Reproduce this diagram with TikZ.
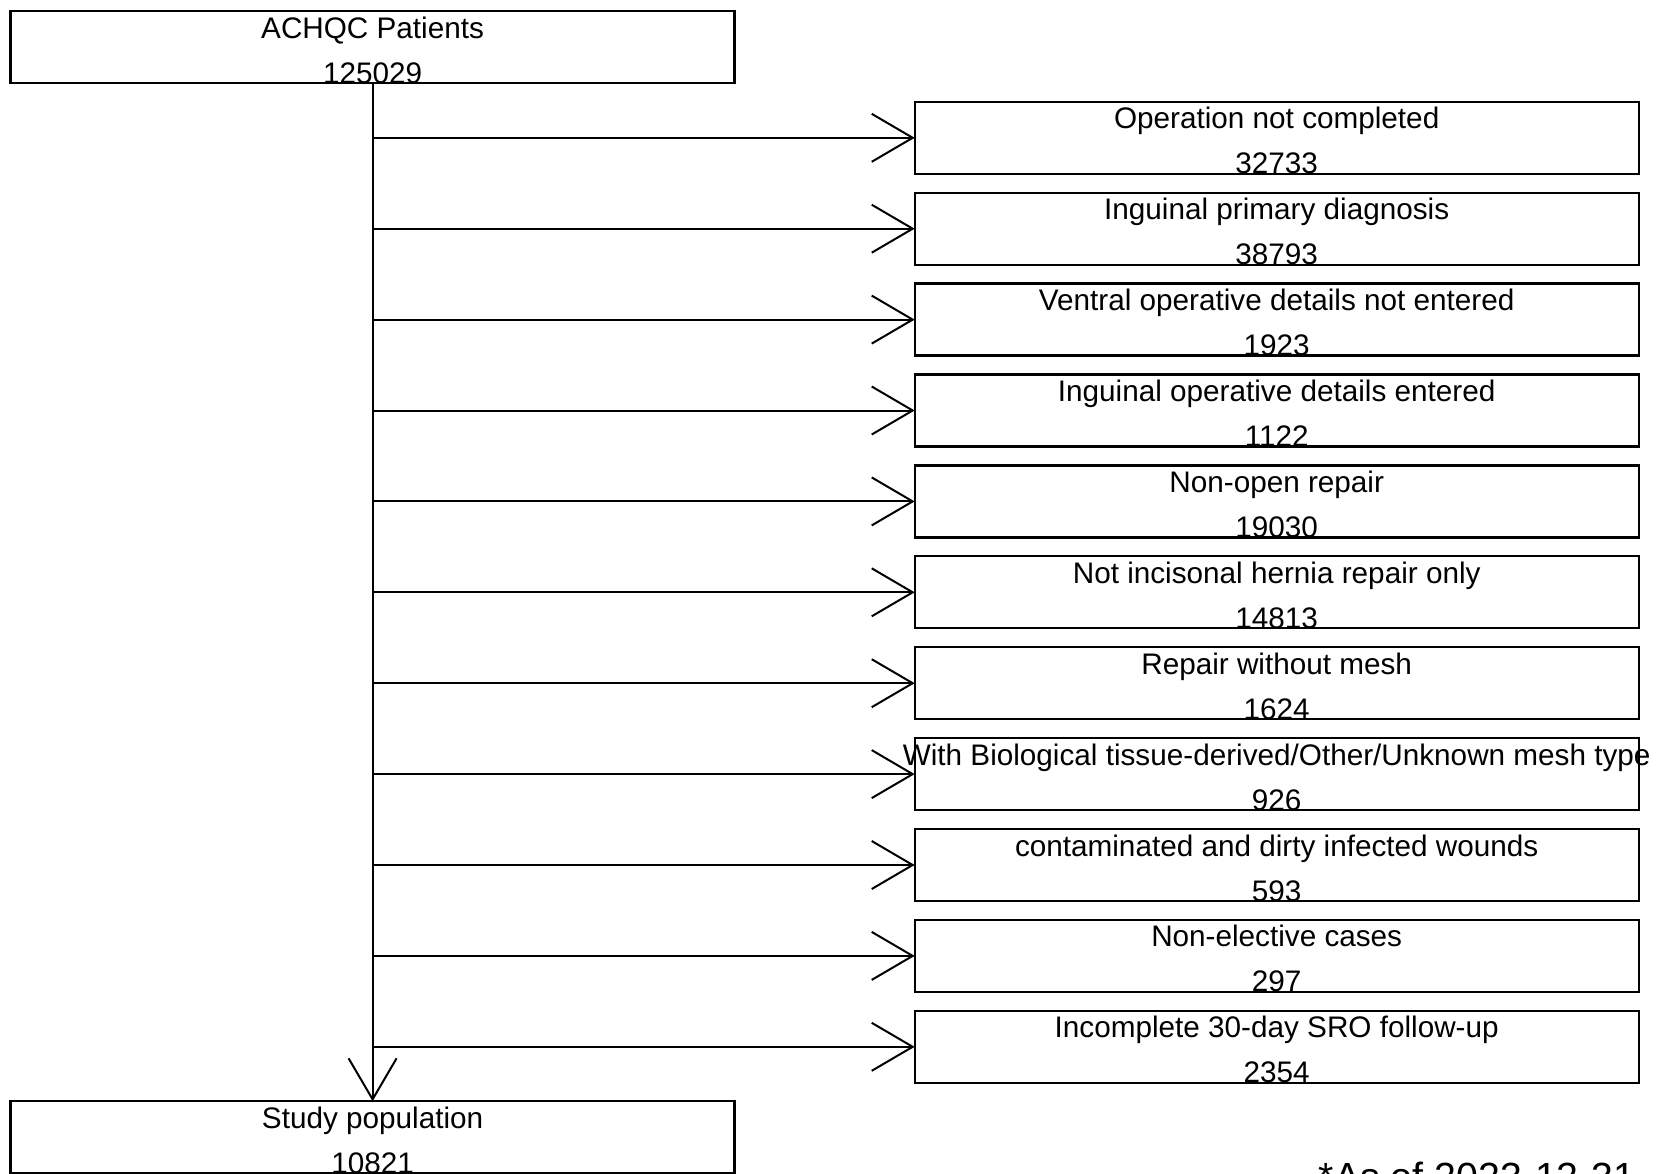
\documentclass[tikz,border=0pt]{standalone}
\usepackage{fontspec}
\setmainfont{Liberation Sans}
\usetikzlibrary{arrows.meta}
\newcommand\exclbox[3]{%
  \pgfmathsetmacro\tT{101.8+(#1-1)*90.9}%
  \node[box,anchor=north west] (e#1) at (914.7,\tT) {};
  \node[lab] (e#1t) at (1276.7,\tT+27) {#2};
  \node[lab] (e#1n) at (1276.7,\tT+72) {#3};
  \coordinate (j#1) at (372.6,\tT+36);
  \draw[conn] (j#1) -- (e#1.west);
}
\begin{document}
\begin{tikzpicture}[x=0.5pt,y=-0.5pt,
  box/.style={draw,line width=1.15pt,minimum width=362pt,minimum height=36pt,inner sep=0pt,outer sep=0pt},
  lab/.style={anchor=base,inner sep=0pt,font=\fontsize{14.85}{17}\selectfont},
  conn/.style={line width=1pt,-{Straight Barb[length=20.5pt,width=24pt,line width=1pt]}}]
\useasboundingbox[fill=white] (0,0) rectangle (1662,1174);
\node[box,anchor=north west] (top) at (10.6,11) {};
\node[lab] (topt) at (372.6,38) {ACHQC Patients};
\node[lab] (topn) at (372.6,83) {125029};
\node[box,anchor=north west] (bot) at (10.6,1101.3) {};
\node[lab] (bott) at (372.6,1128.3) {Study population};
\node[lab] (botn) at (372.6,1173.3) {10821};
\draw[conn] (top.south) -- (bot.north);
\exclbox{1}{Operation not completed}{32733}
\exclbox{2}{Inguinal primary diagnosis}{38793}
\exclbox{3}{Ventral operative details not entered}{1923}
\exclbox{4}{Inguinal operative details entered}{1122}
\exclbox{5}{Non-open repair}{19030}
\exclbox{6}{Not incisonal hernia repair only}{14813}
\exclbox{7}{Repair without mesh}{1624}
\exclbox{8}{With Biological tissue-derived/Other/Unknown mesh type}{926}
\exclbox{9}{contaminated and dirty infected wounds}{593}
\exclbox{10}{Non-elective cases}{297}
\exclbox{11}{Incomplete 30-day SRO follow-up}{2354}
\node[anchor=base east,inner sep=0pt,font=\fontsize{19.65}{22}\selectfont] (note) at (1636,1190) {*As of 2023-12-31};
\end{tikzpicture}
\end{document}
